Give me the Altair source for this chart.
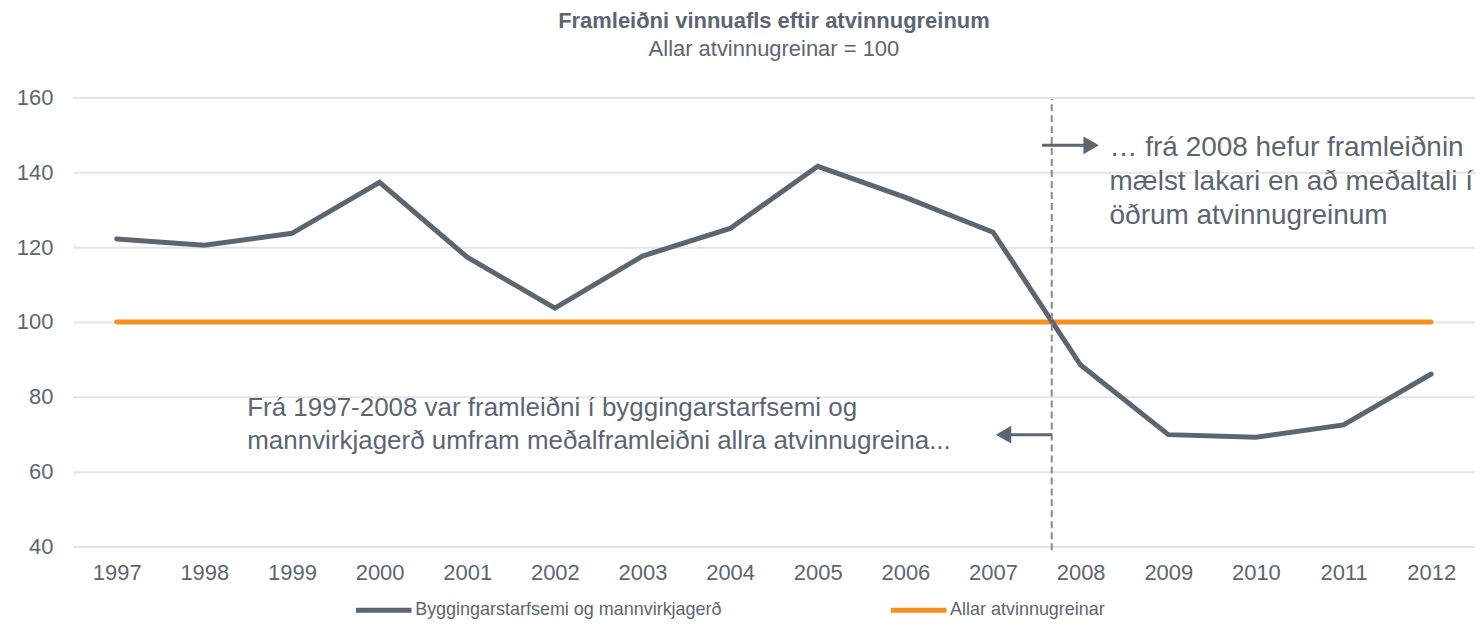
import altair as alt
import pandas as pd

# ---- data ----
years = list(range(1997, 2013))
bygg = [122.2, 120.5, 123.7, 137.3, 117.3, 103.7, 117.6, 125.0, 141.6, 133.3, 124.0, 88.5, 69.9, 69.2, 72.5, 86.1]
allar = [100, 100, 100, 100, 100, 100, 100, 100, 100, 100, 100, 100, 100, 100, 100, 100]
series_names = ["Byggingarstarfsemi og mannvirkjagerð", "Allar atvinnugreinar"]
series_colors = ["#5b6670", "#f7901e"]
y_ticks = [40, 60, 80, 100, 120, 140, 160]

divider_x = [2007.67]
divider_y = [39.0]
divider_y2 = [159.6]

arrow_start = [2007.56, 2007.67]
arrow_head = [2008.12, 2007.12]
arrow_y = [147.2, 69.9]
arrow_shape = ["triangle-right", "triangle-left"]

right_note_x = [2008.33]
right_note_y = [150.3]
right_note_text = ["… frá 2008 hefur framleiðnin\nmælst lakari en að meðaltali í\nöðrum atvinnugreinum"]

left_note_x = [1998.49]
left_note_y = [80.6]
left_note_text = ["Frá 1997-2008 var framleiðni í byggingarstarfsemi og\nmannvirkjagerð umfram meðalframleiðni allra atvinnugreina..."]

TXT = "#5b6670"
FONT = "Liberation Sans"

df = pd.DataFrame({
    "year": years * 2,
    "value": bygg + allar,
    "series": [series_names[0]] * len(years) + [series_names[1]] * len(years),
})
div_df = pd.DataFrame({"x": divider_x, "y": divider_y, "y2": divider_y2})
arr_df = pd.DataFrame({"x": arrow_start, "x2": arrow_head, "y": arrow_y, "shape": arrow_shape})
rnote_df = pd.DataFrame({"x": right_note_x, "y": right_note_y, "text": right_note_text})
lnote_df = pd.DataFrame({"x": left_note_x, "y": left_note_y, "text": left_note_text})

xscale = alt.Scale(domain=[1996.5, 2012.5], nice=False, zero=False)
yscale = alt.Scale(domain=[40, 160], nice=False, zero=False)

x_enc = alt.X("year:Q", scale=xscale, title=None,
              axis=alt.Axis(values=years, format="d", grid=False, ticks=False, domain=False,
                            labelFontSize=22, labelColor=TXT, labelFont=FONT, labelPadding=16,
                            labelFlush=False))
y_enc = alt.Y("value:Q", scale=yscale, title=None,
              axis=alt.Axis(values=y_ticks, grid=True, gridColor="#e4e4e4", gridWidth=2,
                            ticks=False, domain=False, labelFontSize=22, labelColor=TXT,
                            labelFont=FONT, labelPadding=20, minExtent=65, maxExtent=65))

color_enc = alt.Color("series:N", scale=alt.Scale(domain=series_names, range=series_colors),
                      title=None,
                      legend=alt.Legend(orient="none", legendX=281, legendY=483, direction="horizontal",
                                        symbolType="stroke", symbolSize=3100, symbolStrokeWidth=5,
                                        labelFontSize=18, labelColor=TXT, labelFont=FONT,
                                        labelOffset=1, columnPadding=158, labelLimit=0))

base = alt.Chart(df)
orange = base.transform_filter(alt.datum.series == series_names[1]).mark_line(
    strokeWidth=5, strokeCap="round").encode(x=x_enc, y=y_enc, color=color_enc)
gray = base.transform_filter(alt.datum.series == series_names[0]).mark_line(
    strokeWidth=5, strokeCap="round", strokeJoin="miter").encode(x=x_enc, y=y_enc, color=color_enc)

divider = alt.Chart(div_df).mark_rule(color="#8a8a8a", strokeWidth=2, strokeDash=[7, 4]).encode(
    x=alt.X("x:Q", scale=xscale), y=alt.Y("y:Q", scale=yscale), y2="y2:Q")

shafts = alt.Chart(arr_df).mark_rule(color="#5b6670", strokeWidth=3).encode(
    x=alt.X("x:Q", scale=xscale), x2="x2:Q", y=alt.Y("y:Q", scale=yscale))
heads = alt.Chart(arr_df).mark_point(filled=True, color="#5b6670", size=320, opacity=1).encode(
    x=alt.X("x2:Q", scale=xscale), y=alt.Y("y:Q", scale=yscale),
    shape=alt.Shape("shape:N", scale=None, legend=None))

rnotes = alt.Chart(rnote_df).mark_text(align="left", baseline="top", fontSize=28, font=FONT,
                                       color=TXT, lineBreak="\n", lineHeight=34).encode(
    x=alt.X("x:Q", scale=xscale), y=alt.Y("y:Q", scale=yscale), text="text:N")
lnotes = alt.Chart(lnote_df).mark_text(align="left", baseline="top", fontSize=26, font=FONT,
                                       color=TXT, lineBreak="\n", lineHeight=34).encode(
    x=alt.X("x:Q", scale=xscale), y=alt.Y("y:Q", scale=yscale), text="text:N")

chart = alt.layer(orange, gray, divider, shafts, heads, rnotes, lnotes).properties(
    width=1405, height=450,
    padding={"left": 0, "right": 0, "top": 1, "bottom": 0},
    title=alt.TitleParams(text="Framleiðni vinnuafls eftir atvinnugreinum",
                          subtitle="Allar atvinnugreinar = 100",
                          fontSize=22, fontWeight="bold", font=FONT, color=TXT,
                          subtitleFontSize=22, subtitleFont=FONT, subtitleColor=TXT,
                          subtitlePadding=6, anchor="middle", frame="group", offset=26),
).configure_view(stroke=None)

chart.save("out.html", embed_options={"renderer": "svg", "actions": False})
